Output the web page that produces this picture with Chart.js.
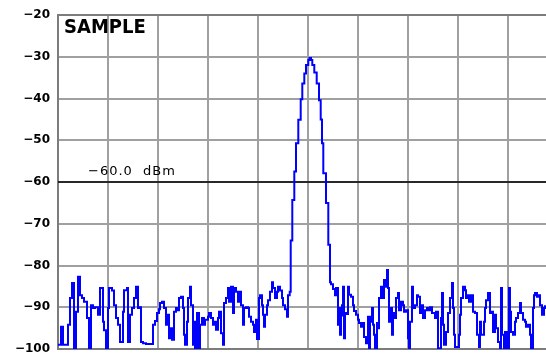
<!DOCTYPE html>
<html>
<head>
<meta charset="utf-8">
<script src="https://cdn.jsdelivr.net/npm/chart.js@4"></script>
<style>
  html, body { margin: 0; padding: 0; background: #fff; overflow: hidden; }
  canvas { display: block; }
</style>
</head>
<body>
<canvas id="chart" width="546" height="356"></canvas>
<script>
// trace readings (x in grid units, 50 per division; level in dBm)
const freq = [0, 3, 5, 8, 10, 12, 14, 16, 18, 20, 22, 24, 26, 29, 31, 33, 35, 37, 40, 42,
  45, 46, 48, 50, 51, 54, 56, 58, 60, 62, 65, 66, 69, 70, 72, 74, 76, 78, 80, 81,
  83, 85, 88, 95, 97, 99, 101, 102, 104, 106, 108, 110, 111, 113, 114, 116, 118, 120, 121, 123,
  125, 126, 127, 129, 130, 132, 133, 135, 136, 137, 139, 141, 142, 144, 146, 147, 150, 151, 153, 155,
  156, 158, 160, 161, 163, 165, 166, 168, 170, 171, 173, 175, 176, 178, 180, 181, 183, 185, 186, 188,
  190, 191, 193, 195, 196, 198, 199, 201, 202, 204, 205, 206, 207, 209, 210, 212, 214, 215, 217, 219,
  220, 222, 224, 225, 227, 229, 230, 231.7, 232.7, 234.3, 236.3, 238, 240.3, 242.7, 244.3, 246.3, 248, 250.3, 251.5, 253,
  254.3, 256.3, 258.7, 261, 262.7, 264, 265.3, 268, 270.3, 272, 273, 275, 277, 278, 280, 281, 282, 283, 284, 285,
  286, 287, 289, 290, 291, 293, 295, 296, 298, 300, 301, 303, 305, 306, 308, 310, 311, 312, 313, 314,
  315, 316, 317, 319, 320, 321, 323, 325, 326, 327, 329, 330, 331, 332, 334, 335, 336, 338, 340, 341,
  343, 345, 346, 348, 350, 351, 352, 354, 355, 357, 359, 360, 362, 364, 365, 367, 369, 370, 372, 374,
  377, 378, 380, 383, 384, 385, 386, 388, 390, 392, 394, 395, 396, 397, 401, 402, 403, 405, 407, 408,
  410, 411, 413, 415, 417, 419, 421, 422, 423, 426, 427, 428, 430, 432, 433, 435, 437, 438, 440, 442,
  443, 444, 446, 447, 449, 451, 452, 453, 455, 457, 458, 460, 462, 463, 465, 467, 468, 470, 472, 473,
  475, 476, 477, 479, 481, 482, 484, 486, 487];
const level = [-99, -94.7, -99, -99, -94.2, -87.8, -84.2, -99.8, -91.1, -82.7, -87.1, -87.8, -88.7, -92.6, -99.8, -89.5, -90.2, -90, -91.8, -85.4,
  -93.5, -95.5, -99.8, -90.2, -85.4, -86, -89.5, -92.6, -94.2, -98.3, -91.1, -85.9, -85.4, -98.3, -91.8, -90.2, -87.8, -85.1, -90.2, -90,
  -98.3, -98.6, -98.8, -94.2, -93.3, -91.4, -90.5, -89, -88.7, -90.2, -94.2, -91.8, -97.4, -95, -97.8, -91.1, -90.2, -90.7, -87.8, -87.5,
  -90.2, -96.6, -99, -93.5, -87.8, -85.1, -89.5, -99, -93.5, -99.8, -91.4, -99.8, -94.2, -92.6, -94.2, -93, -92.3, -91.4, -92.6, -94.2,
  -93.5, -95.4, -92.6, -91.1, -96.2, -99, -89, -87.8, -85.4, -88.7, -85.1, -91.4, -85.4, -86.3, -88.7, -86.3, -89.5, -94.2, -90.2, -90,
  -90.2, -92.3, -93.5, -94.2, -95.9, -93, -97.6, -87.8, -87.1, -89.5, -91.8, -94.7, -91.8, -89.5, -88.3, -86.3, -84, -85.4, -87.8, -86.3,
  -85.1, -86, -87.8, -89.5, -90.5, -92.3, -87.1, -86.3, -74, -64.3, -57.5, -50.7, -45.1, -40.2, -36.4, -34, -32, -30.8, -30.3, -30.8,
  -32, -33.8, -36.4, -40.4, -45, -50.7, -57.9, -65, -75, -84, -84.5, -85.6, -87.1, -85.4, -94.2, -90.2, -96.6, -92, -89.5, -85.1,
  -97.4, -91.4, -91.6, -85.1, -87, -87.5, -89.5, -90.9, -91.8, -93, -93.8, -94.7, -93.8, -97.1, -98.6, -92.3, -99.8, -92.3, -93.5, -90.2,
  -94.2, -96.6, -99.8, -93.8, -95, -87.8, -85.1, -87.8, -83.5, -85.1, -81.1, -85.4, -93.5, -90.2, -96.6, -91.4, -92.6, -87.8, -86.6, -90.7,
  -88.7, -89.5, -91.1, -90.7, -97.4, -99.8, -93.5, -85.1, -90.2, -89.5, -87.1, -87.5, -91.4, -89.5, -92.6, -90.7, -90.2, -90.7, -90, -91.4,
  -92.6, -91.1, -99.8, -92.6, -86.6, -94.2, -99, -95.9, -91.4, -87.8, -84.2, -90.2, -96.6, -99.5, -96.6, -91.8, -87.8, -85.1, -85.9, -87.8,
  -87.1, -88.7, -87.1, -91.1, -91.4, -96.6, -99.5, -93.5, -96.6, -93.5, -90.2, -88.3, -86.6, -91.4, -91.1, -95.9, -91.8, -95, -98.3, -99.8,
  -85.4, -96.6, -99.8, -95.9, -99.8, -85.4, -91.1, -95.9, -96.6, -93.5, -92.6, -91.4, -89, -91.4, -93, -93.5, -94.7, -94.2, -96.6, -99.8,
  -90.2, -87.1, -86.6, -87.5, -87.1, -89.5, -91.8, -90.2, -89.5];

const refLevel = -60;
const refLabel = '\u221260.0  dBm';
const title = 'SAMPLE';
const yTicks = [-100, -90, -80, -70, -60, -50, -40, -30, -20];
const xTicks = [0, 50, 100, 150, 200, 250, 300, 350, 400, 450];

const trace = freq.map((f, i) => ({ x: f, y: level[i] }));

// grid lines and frame, placed from the scales
const gridLines = {
  id: 'gridLines',
  beforeDatasetsDraw(chart) {
    const { ctx, chartArea, scales } = chart;
    const top = Math.round(chartArea.top), bottom = Math.round(chartArea.bottom);
    const left = Math.round(chartArea.left), right = Math.round(chartArea.right);
    ctx.save();
    ctx.fillStyle = '#a0a0a0';
    xTicks.forEach(v => {
      const px = Math.round(scales.x.getPixelForValue(v));
      ctx.fillRect(px - 1, top, 2, bottom - top);
    });
    yTicks.forEach(v => {
      const py = Math.round(scales.y.getPixelForValue(v));
      ctx.fillRect(left, py - 1, right - left, 2);
    });
    // darker frame: left, top and bottom edges
    ctx.fillStyle = '#7c7c7c';
    ctx.fillRect(left - 1, top - 1, 2, bottom - top + 2);
    ctx.fillRect(left - 1, top - 1, right - left + 1, 2);
    ctx.fillRect(left - 1, bottom - 1, right - left + 1, 2);
    ctx.restore();
  }
};

// text drawn on top of the grid: marker label and title
const labels = {
  id: 'labels',
  afterDatasetsDraw(chart) {
    const { ctx, scales } = chart;
    ctx.save();
    ctx.fillStyle = '#000';
    ctx.textBaseline = 'alphabetic';
    ctx.font = '13px "DejaVu Sans"';
    ctx.letterSpacing = '1px';
    ctx.fillText(refLabel, scales.x.getPixelForValue(30), scales.y.getPixelForValue(refLevel) - 7);
    ctx.letterSpacing = '0px';
    ctx.font = 'bold 20px "DejaVu Sans Condensed", "DejaVu Sans"';
    ctx.textBaseline = 'top';
    ctx.fillText(title, scales.x.getPixelForValue(6), scales.y.getPixelForValue(-20) + 3);
    ctx.restore();
  }
};

new Chart(document.getElementById('chart'), {
  type: 'line',
  data: {
    datasets: [
      {
        data: trace,
        borderColor: '#0000ff',
        borderWidth: 2,
        pointRadius: 0,
        stepped: 'before'
      },
      {
        data: [{ x: 0, y: refLevel }, { x: 488, y: refLevel }],
        borderColor: '#000',
        borderWidth: 1.5,
        pointRadius: 0
      }
    ]
  },
  options: {
    responsive: false,
    animation: false,
    layout: { padding: { top: 15, bottom: 7, right: 0, left: 0 } },
    plugins: { legend: { display: false }, tooltip: { enabled: false } },
    scales: {
      x: {
        type: 'linear',
        min: 0,
        max: 488,
        ticks: { display: false },
        grid: { display: false, drawTicks: false },
        border: { display: false },
        afterFit: s => { s.height = 0; }
      },
      y: {
        min: -100,
        max: -20,
        afterBuildTicks: s => { s.ticks = yTicks.map(v => ({ value: v })); },
        ticks: {
          color: '#000',
          padding: 8,
          font: { family: '"DejaVu Sans"', size: 12, weight: 'bold' },
          callback: v => '\u2212' + Math.abs(v)
        },
        grid: { display: false, drawTicks: false },
        border: { display: false },
        afterFit: s => {
          s.width = 58;
          s.paddingTop = 0;
          s.paddingBottom = 0;
        }
      }
    }
  },
  plugins: [gridLines, labels]
});
</script>
</body>
</html>
